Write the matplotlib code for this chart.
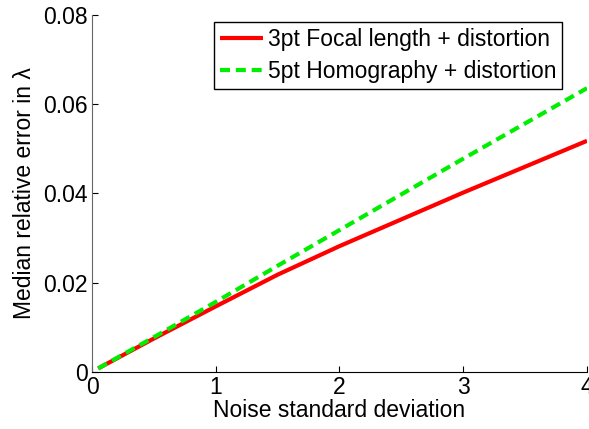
import matplotlib
matplotlib.use("Agg")
import matplotlib.pyplot as plt

plt.rcParams['font.family'] = ['Liberation Sans', 'DejaVu Sans']

noise_std = [0.05, 0.5, 1.0, 1.5, 2.0, 2.5, 3.0, 3.5, 4.0]
err_3pt = [0.0008, 0.0075, 0.0147, 0.0218, 0.0282, 0.0342, 0.0402, 0.0460, 0.0518]
err_5pt = [0.0008, 0.0078, 0.0157, 0.0238, 0.0318, 0.0398, 0.0478, 0.0557, 0.0636]

labels = ["3pt Focal length + distortion", "5pt Homography + distortion"]
x_ticks = [0, 1, 2, 3, 4]
y_ticks = [0, 0.02, 0.04, 0.06, 0.08]
y_ticklabels = ["0", "0.02", "0.04", "0.06", "0.08"]

FS = 16.5

fig = plt.figure(figsize=(5.89, 4.29), dpi=100)
ax = fig.add_axes([0.1562, 0.1329, 0.8404, 0.8322])

ax.plot(noise_std, err_3pt, color='#ff0000', lw=3, label=labels[0],
        solid_capstyle='butt')
ax.plot(noise_std, err_5pt, color='#00ee00', lw=3, ls=(0, (2.4, 1.4)),
        label=labels[1], dash_capstyle='butt')

ax.set_xlim(0, 4)
ax.set_ylim(0, 0.08)
ax.set_xticks(x_ticks)
ax.set_xticklabels([str(t) for t in x_ticks])
ax.set_yticks(y_ticks)
ax.set_yticklabels(y_ticklabels)
ax.tick_params(direction='in', length=4, width=0.8, labelsize=FS, pad=3)

for side in ('top', 'right'):
    ax.spines[side].set_visible(False)
ax.spines['left'].set_color('#666666')
ax.spines['bottom'].set_color('black')

ax.set_xlabel("Noise standard deviation", fontsize=FS, labelpad=0)
ax.set_ylabel("Median relative error in λ", fontsize=FS, labelpad=5)

leg = ax.legend(loc='upper right', bbox_to_anchor=(0.9495, 0.980),
                fontsize=FS, frameon=True, fancybox=False, framealpha=1,
                edgecolor='black', handlelength=1.9, handletextpad=0.2,
                labelspacing=0.4, borderpad=0.25, borderaxespad=0)
leg.get_frame().set_linewidth(1.0)

fig.savefig("out.png", dpi=100)
